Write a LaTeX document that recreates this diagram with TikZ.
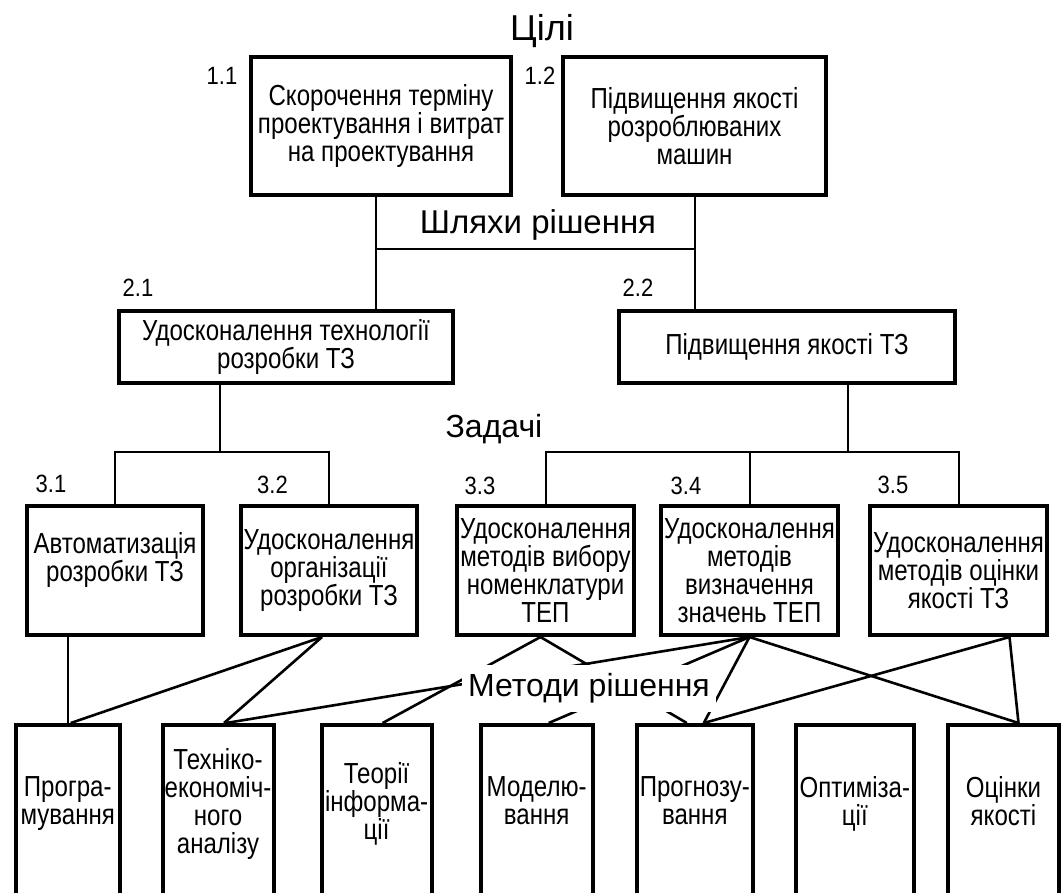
\documentclass[tikz,border=0pt]{standalone}
\usepackage{fontspec}
\setmainfont{Liberation Sans}
\newfontfamily\boxfont[FakeStretch=0.83]{Liberation Sans}
\newfontfamily\numfont[FakeStretch=0.88]{Liberation Sans}
\tikzset{
    box/.style={draw, line width=4pt, align=center, inner sep=2pt, font=\boxfont\fontsize{29}{28}\selectfont},
    methodbox/.style={box, minimum height=172pt, text depth=20pt},
    num/.style={inner sep=0pt, font=\numfont\fontsize{25}{28}\selectfont},
    heading/.style={inner sep=0pt, anchor=base, font=\fontsize{32}{36}\selectfont},
    link/.style={line width=2pt},
    mline/.style={line width=2.6pt}
}

\begin{document}
\begin{tikzpicture}[x=1pt, y=-1pt]
        \useasboundingbox (0,0) rectangle (1062,892);
        \clip (0,0) rectangle (1062,892);
        % goals
        \node [heading, font=\fontsize{36}{40}\selectfont] (goals) at (542,40) {Цілі};
        \node [box, minimum width=260pt, minimum height=138pt] (b11) at (381,126) {Скорочення терміну\\проектування і витрат\\на проектування};
        \node [box, minimum width=263pt, minimum height=138pt] (b12) at (694.5,126) {Підвищення якості\\розроблюваних\\машин};
        \node [num] (n11) at (222,76) {1.1};
        \node [num] (n12) at (540,76) {1.2};
        % ways
        \node [heading, font=\fontsize{33}{36}\selectfont] (ways) at (538,233) {Шляхи рішення};
        \node [box, minimum width=334pt, minimum height=72pt] (b21) at (286,347) {Удосконалення технології\\розробки ТЗ};
        \node [box, minimum width=336pt, minimum height=72pt] (b22) at (787,347) {Підвищення якості ТЗ};
        \node [num] (n21) at (138,288) {2.1};
        \node [num] (n22) at (638,288) {2.2};
        % tasks
        \node [heading] (tasks) at (494,437) {Задачі};
        \node [box, minimum width=176pt, minimum height=129pt] (b31) at (115,570.5) {Автоматизація\\розробки ТЗ\\\mbox{}};
        \node [box, minimum width=176pt, minimum height=129pt] (b32) at (329,570.5) {Удосконалення\\організації\\розробки ТЗ};
        \node [box, minimum width=177pt, minimum height=129pt] (b33) at (545.5,570.5) {Удосконалення\\методів вибору\\номенклатури\\ТЕП};
        \node [box, minimum width=177pt, minimum height=129pt] (b34) at (749.5,570.5) {Удосконалення\\методів\\визначення\\значень ТЕП};
        \node [box, minimum width=177pt, minimum height=129pt] (b35) at (958.5,570.5) {Удосконалення\\методів оцінки\\якості ТЗ};
        \node [num] (n31) at (51,483.5) {3.1};
        \node [num] (n32) at (272.5,485) {3.2};
        \node [num] (n33) at (480,485.5) {3.3};
        \node [num] (n34) at (686,485.5) {3.4};
        \node [num] (n35) at (893,485) {3.5};
        % methods
        \node [methodbox, minimum width=104.5pt] (p1) at (67.75,811) {Програ-\\мування};
        \node [methodbox, minimum width=111pt] (p2) at (218,811) {Техніко-\\економіч-\\ного\\аналізу};
        \node [methodbox, minimum width=110pt] (p3) at (376.6,811) {Теорії\\інформа-\\ції};
        \node [methodbox, minimum width=112pt] (p4) at (536.7,811) {Моделю-\\вання};
        \node [methodbox, minimum width=116pt] (p5) at (694.8,811) {Прогнозу-\\вання};
        \node [methodbox, minimum width=118pt] (p6) at (854.8,811) {Оптиміза-\\ції};
        \node [methodbox, minimum width=111pt] (p7) at (1003.5,811) {Оцінки\\якості};

        % tree links
        \coordinate (j1) at (376,249);
        \coordinate (j2) at (694.5,249);
        \draw [link] (b11.south -| j1) -- (b21.north -| j1);
        \draw [link] (b12.south -| j2) -- (b22.north -| j2);
        \draw [link] (j1) -- (j2);
        \coordinate (k1) at (220,452);
        \coordinate (k2) at (848,452);
        \draw [link] (b21.south -| k1) -- (k1);
        \draw [link] (b31.north) -- (b31.north |- k1) -- (b32.north |- k1) -- (b32.north);
        \draw [link] (b22.south -| k2) -- (k2);
        \draw [link] (b33.north) -- (b33.north |- k2) -- (b35.north |- k2) -- (b35.north);
        \draw [link] (b34.north) -- (b34.north |- k2);

        % task -> method links
        \draw [link] (p1.north |- b31.south) -- (p1.north);
        \draw [mline] ([xshift=-7pt]b32.south) -- ([xshift=3pt]p1.north);
        \draw [mline] ([xshift=-7pt]b32.south) -- ([xshift=6pt]p2.north);
        \draw [mline] ([xshift=-5pt]b33.south) -- ([xshift=6pt]p3.north);
        \draw [mline] ([xshift=-5pt]b33.south) -- ([xshift=-8pt]p5.north);
        \draw [mline] (b34.south) -- ([xshift=8pt]p2.north);
        \draw [mline] (b34.south) -- ([xshift=12pt]p4.north);
        \draw [mline] (b34.south) -- ([xshift=9pt]p5.north);
        \draw [mline] (b34.south) -- ([xshift=15pt]p7.north);
        \draw [mline] ([xshift=51pt]b35.south) -- ([xshift=9pt]p5.north);
        \draw [mline] ([xshift=51pt]b35.south) -- ([xshift=15pt]p7.north);

        \node [heading, anchor=center, fill=white, minimum width=254pt, minimum height=47pt] (meth) at (589,688.5) {Методи рішення};
    \end{tikzpicture}
\end{document}
